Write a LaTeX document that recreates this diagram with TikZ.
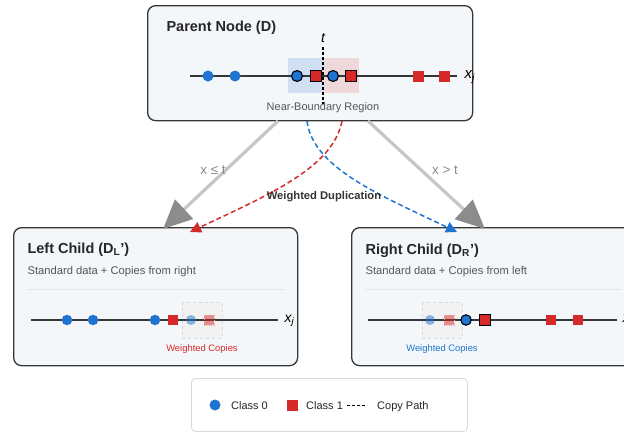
\documentclass[tikz,border=0pt]{standalone}
\usepackage{fontspec}
\setmainfont{Liberation Sans}
\usetikzlibrary{arrows.meta}
\definecolor{cblue}{HTML}{1F74D2}
\definecolor{cred}{HTML}{D62A2A}
\definecolor{boxfill}{HTML}{F4F7F9}
\definecolor{boxline}{HTML}{363636}
\definecolor{arrgray}{HTML}{C6C6C6}
\definecolor{headgray}{HTML}{8C8C8C}
\definecolor{subgray}{HTML}{555555}
\definecolor{labgray}{HTML}{8A8A8A}
\begin{document}
\begin{tikzpicture}[x=1pt,y=-1pt,
  panel/.style={draw=boxline, line width=1.3pt, fill=boxfill, rounded corners=8pt, inner sep=0, anchor=north west},
  axisline/.style={draw=boxline, line width=1.3pt},
  cz/.style={circle, fill=cblue, inner sep=0, minimum size=11pt},
  czo/.style={cz, draw=black, line width=1.1pt},
  co/.style={rectangle, fill=cred, inner sep=0, minimum size=11pt},
  coo/.style={co, draw=black, line width=1.1pt},
  czf/.style={circle, fill=cblue, fill opacity=0.5, inner sep=0, minimum size=10pt},
  cof/.style={rectangle, fill=cred, fill opacity=0.5, draw=cred!45, dotted, inner sep=0, minimum size=10pt},
  copybox/.style={draw=gray!30, dashed, fill=gray!10, line width=0.6pt},
  ttl/.style={anchor=west, font=\bfseries\fontsize{14.5}{17}\selectfont, text=black!85},
  sub/.style={anchor=west, font=\fontsize{11.2}{13}\selectfont, text=subgray},
  xj/.style={anchor=west, font=\itshape\fontsize{15}{17}\selectfont},
  splitarrow/.style={draw=arrgray, line width=3.2pt, -{Triangle[length=29pt,width=26pt,color=headgray]}},
  copyarrow/.style={line width=1.5pt, dash pattern=on 5pt off 3pt},
  split/.style={font=\fontsize{13.5}{15}\selectfont, text=labgray},
  legtext/.style={anchor=base west, font=\fontsize{11}{13}\selectfont, text=black!85, inner sep=0},
]
\useasboundingbox (0,0) rectangle (624,434);
\clip (0,0) rectangle (624,434);

% ---------- parent ----------
\node[panel, minimum width=325pt, minimum height=115pt] (parent) at (147,5) {};
\node[ttl] (ptitle) at (163,28) {Parent Node (D)};
\fill[cblue, opacity=0.17] (288,58) rectangle (323,93);
\fill[cred, opacity=0.15] (323,58) rectangle (359,93);
\coordinate (pa1) at (190,76);
\coordinate (pa2) at (457,76);
\draw[axisline] (pa1) -- (pa2);
\node[cz] (p1) at (208,76) {};
\node[cz] (p2) at (235,76) {};
\node[czo] (p3) at (297,76) {};
\node[coo] (p4) at (316,76) {};
\node[czo] (p5) at (333,76) {};
\node[coo] (p6) at (351,76) {};
\node[co] (p7) at (418,76) {};
\node[co] (p8) at (444,76) {};
\coordinate (t1) at (323,47);
\coordinate (t2) at (323,104);
\draw[black, line width=1.6pt, dash pattern=on 3pt off 2pt] (t1) -- (t2);
\node[font=\itshape\fontsize{14}{16}\selectfont] (tlab) at (323,38) {t};
\node[xj] (pxj) at (461,77) {x\textsubscript{j}};
\node[font=\fontsize{11}{13}\selectfont, text=subgray] (nbr) at (323,108) {Near-Boundary Region};

% ---------- left child ----------
\node[panel, minimum width=284pt, minimum height=138pt] (left) at (13,227) {};
\node[ttl] (ltitle) at (24,250) {Left Child (D\textsubscript{L}')};
\node[sub] (lsub) at (24,272) {Standard data + Copies from right};
\coordinate (ls1) at (27,289);
\coordinate (ls2) at (285,289);
\draw[gray!20, line width=0.8pt] (ls1) -- (ls2);
\draw[copybox] (182,302) rectangle (222,338);
\coordinate (la1) at (31,320);
\coordinate (la2) at (278,320);
\draw[axisline] (la1) -- (la2);
\node[cz, minimum size=10.5pt] (l1) at (67,320) {};
\node[cz, minimum size=10.5pt] (l2) at (93,320) {};
\node[cz, minimum size=10.5pt] (l3) at (155,320) {};
\node[co, minimum size=10.5pt] (l4) at (173,320) {};
\node[czf] (l5) at (191,320) {};
\node[cof] (l6) at (209,320) {};
\node[xj, font=\itshape\fontsize{14}{16}\selectfont] (lxj) at (281,321) {x\textsubscript{j}};
\node[font=\fontsize{9.4}{11}\selectfont, text=cred] (lwc) at (202,349) {Weighted Copies};

% ---------- right child ----------
\node[panel, minimum width=290pt, minimum height=138pt] (right) at (351,227) {};
\node[ttl] (rtitle) at (362,251) {Right Child (D\textsubscript{R}')};
\node[sub] (rsub) at (362,272) {Standard data + Copies from left};
\coordinate (rs1) at (365,289);
\coordinate (rs2) at (622,289);
\draw[gray!20, line width=0.8pt] (rs1) -- (rs2);
\draw[copybox] (422,302) rectangle (462,338);
\coordinate (ra1) at (368,320);
\coordinate (ra2) at (617,320);
\draw[axisline] (ra1) -- (ra2);
\node[czf] (r1) at (430,320) {};
\node[cof] (r2) at (449,320) {};
\node[czo, minimum size=10.5pt] (r3) at (466,320) {};
\node[coo, minimum size=10.5pt] (r4) at (485,320) {};
\node[co, minimum size=10.5pt] (r5) at (551,320) {};
\node[co, minimum size=10.5pt] (r6) at (578,320) {};
\node[xj, font=\itshape\fontsize{14}{16}\selectfont] (rxj) at (619,321) {x\textsubscript{j}};
\node[font=\fontsize{9.4}{11}\selectfont, text=cblue] (rwc) at (442,349) {Weighted Copies};

% ---------- split arrows ----------
\coordinate (pL) at (278,121);
\coordinate (cL) at (163,229);
\coordinate (pR) at (368,121);
\coordinate (cR) at (485,229);
\draw[splitarrow] (pL) -- (cL);
\draw[splitarrow] (pR) -- (cR);
\node[split] (le) at (213,170) {x ≤ t};
\node[split] (gt) at (445,170) {x > t};

% ---------- copy paths ----------
\coordinate (rs) at (342,121);
\coordinate (re) at (190,232);
\coordinate (bs) at (307,121);
\coordinate (be) at (457,232);
\draw[copyarrow, cred, -{Triangle[length=11pt,width=11pt]}] (rs) .. controls (333,168) and (268,195) .. (re);
\draw[copyarrow, cblue, -{Triangle[length=11pt,width=11pt]}] (bs) .. controls (313,168) and (380,195) .. (be);
\node[font=\bfseries\fontsize{11.2}{13}\selectfont, text=black!80] (wd) at (324,197) {Weighted Duplication};

% ---------- legend ----------
\node[draw=gray!30, line width=0.8pt, fill=white, rounded corners=4pt, minimum width=276pt, minimum height=53pt, inner sep=0, anchor=north west] (legend) at (191,378) {};
\node[cz, minimum size=11pt] (lg0) at (215,405) {};
\node[legtext] (lg0t) at (231,409) {Class 0};
\node[co, minimum size=11pt] (lg1) at (292,405) {};
\node[legtext] (lg1t) at (306,409) {Class 1};
\coordinate (lgd1) at (347,405);
\coordinate (lgd2) at (367,405);
\draw[black, line width=1pt, dash pattern=on 3pt off 2pt] (lgd1) -- (lgd2);
\node[legtext] (lgct) at (377,409) {Copy Path};
\end{tikzpicture}
\end{document}
